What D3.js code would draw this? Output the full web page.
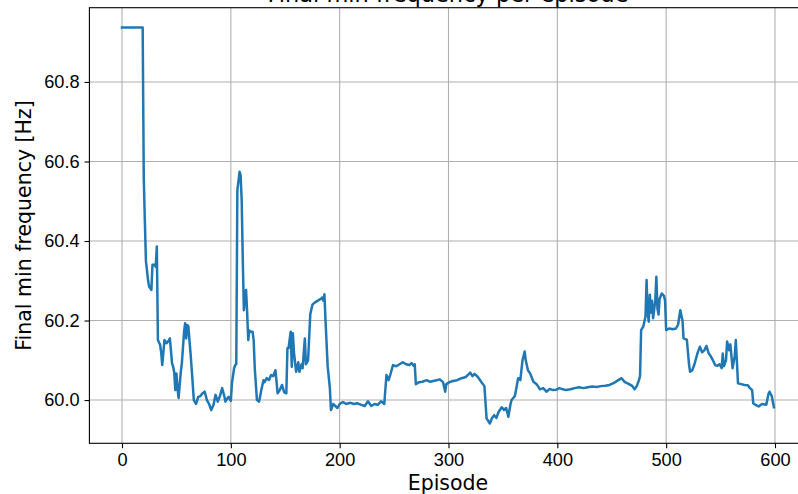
<!DOCTYPE html>
<html>
<head>
<meta charset="utf-8">
<script src="https://cdn.jsdelivr.net/npm/d3@7"></script>
<style>
	body { margin: 0; background: #fff; }
	svg { display: block; font-family: "DejaVu Sans", sans-serif; }
	.grid line { stroke: #b0b0b0; stroke-width: 1.1; }
	.line { fill: none; stroke: #1f77b4; stroke-width: 2.5; stroke-linejoin: round; stroke-linecap: square; }
</style>
</head>
<body>
<div id="graphs"></div>
<script>
var titleText = "Final min frequency per episode";
var xLabel = "Episode";
var yLabel = "Final min frequency [Hz]";
var xTicks = [0, 100, 200, 300, 400, 500, 600];
var yTicks = [60.0, 60.2, 60.4, 60.6, 60.8];

// episode numbers and final min frequency
var episodes = [0, 19, 20, 21, 22, 24, 25, 27, 28, 30, 31, 32, 33, 35, 36, 37, 39, 41, 43, 44,
	46, 47, 48, 49, 50, 51, 52, 54, 55, 57, 58, 59, 60, 61, 62, 63, 64, 66, 68, 70,
	72, 74, 76, 78, 80, 82, 84, 86, 88, 90, 92, 94, 95, 97, 98, 100, 101, 103, 104, 105,
	106, 107, 108, 109, 110, 111, 112, 113, 114, 115, 116, 117, 118, 120, 121, 122, 124, 126, 127, 128,
	130, 131, 133, 135, 137, 139, 141, 143, 145, 147, 149, 151, 152, 153, 155, 156, 157, 158, 160, 162,
	163, 165, 166, 168, 169, 171, 173, 175, 177, 180, 183, 184, 185, 186, 187, 189, 191, 192, 194, 196,
	198, 200, 203, 206, 210, 213, 216, 220, 223, 226, 229, 232, 235, 238, 241, 243, 245, 247, 249, 252,
	255, 258, 261, 264, 266, 268, 269, 270, 273, 276, 280, 283, 286, 289, 292, 295, 297, 298, 301, 304,
	308, 312, 316, 320, 322, 324, 327, 330, 333, 335, 338, 340, 342, 344, 346, 349, 351, 353, 355, 357,
	358, 361, 364, 366, 368, 370, 371, 373, 375, 378, 381, 384, 387, 390, 393, 396, 399, 402, 405, 408,
	412, 416, 420, 424, 428, 432, 436, 440, 444, 448, 452, 456, 459, 462, 466, 469, 471, 473, 475, 476,
	477, 479, 481, 482, 483, 484, 485, 486, 487, 488, 490, 491, 492, 493, 494, 496, 498, 499, 500, 503,
	506, 509, 511, 513, 515, 516, 519, 521, 522, 524, 526, 529, 531, 533, 535, 537, 539, 541, 543, 545,
	547, 549, 551, 552, 553, 555, 556, 558, 559, 561, 563, 564, 566, 569, 572, 575, 577, 579, 580, 582,
	585, 588, 592, 594, 595, 597, 599];

var minFreq = [60.937, 60.937, 60.56, 60.45, 60.35, 60.30, 60.285, 60.277, 60.34, 60.34, 60.335, 60.386, 60.151, 60.139, 60.12, 60.088, 60.151, 60.143, 60.15, 60.155,
	60.092, 60.084, 60.07, 60.025, 60.067, 60.03, 60.005, 60.07, 60.092, 60.17, 60.193, 60.155, 60.189, 60.185, 60.15, 60.117, 60.08, 60.0, 59.99, 60.008,
	60.01, 60.017, 60.021, 60.0, 59.99, 59.975, 59.987, 60.013, 59.996, 60.01, 60.03, 60.01, 59.996, 60.005, 60.008, 59.998, 60.042, 60.08, 60.088, 60.09,
	60.528, 60.55, 60.574, 60.565, 60.5, 60.35, 60.226, 60.26, 60.277, 60.22, 60.151, 60.175, 60.172, 60.172, 60.15, 60.08, 60.0, 59.996, 60.01, 60.025,
	60.05, 60.045, 60.055, 60.05, 60.063, 60.06, 60.075, 60.017, 60.025, 60.038, 60.02, 60.017, 60.13, 60.13, 60.172, 60.084, 60.168, 60.12, 60.071, 60.095,
	60.071, 60.09, 60.08, 60.155, 60.09, 60.10, 60.216, 60.24, 60.245, 60.25, 60.255, 60.258, 60.25, 60.266, 60.2, 60.084, 60.03, 59.975, 59.99, 59.985,
	59.98, 59.99, 59.995, 59.99, 59.993, 59.99, 59.992, 59.988, 59.985, 59.997, 59.985, 59.99, 59.988, 59.997, 59.99, 60.063, 60.05, 60.068, 60.088, 60.085,
	60.09, 60.095, 60.09, 60.088, 60.093, 60.086, 60.09, 60.04, 60.045, 60.046, 60.05, 60.046, 60.048, 60.05, 60.052, 60.045, 60.021, 60.04, 60.045, 60.048,
	60.05, 60.055, 60.058, 60.069, 60.06, 60.066, 60.058, 60.046, 60.035, 59.954, 59.941, 59.955, 59.962, 59.955, 59.97, 59.982, 59.975, 59.98, 59.958, 59.99,
	60.0, 60.01, 60.055, 60.05, 60.10, 60.122, 60.1, 60.075, 60.067, 60.046, 60.04, 60.027, 60.03, 60.021, 60.028, 60.025, 60.026, 60.03, 60.027, 60.025,
	60.027, 60.03, 60.032, 60.03, 60.032, 60.034, 60.033, 60.035, 60.036, 60.038, 60.043, 60.05, 60.055, 60.045, 60.04, 60.035, 60.027, 60.035, 60.05, 60.06,
	60.176, 60.185, 60.21, 60.302, 60.22, 60.197, 60.265, 60.22, 60.25, 60.206, 60.25, 60.31, 60.23, 60.215, 60.255, 60.268, 60.262, 60.25, 60.176, 60.18,
	60.178, 60.18, 60.19, 60.226, 60.2, 60.155, 60.152, 60.09, 60.071, 60.075, 60.09, 60.12, 60.134, 60.12, 60.125, 60.136, 60.118, 60.11, 60.1, 60.088,
	60.086, 60.09, 60.08, 60.117, 60.085, 60.1, 60.147, 60.125, 60.14, 60.08, 60.11, 60.151, 60.042, 60.04, 60.038, 60.037, 60.03, 60.025, 59.992, 59.988,
	59.984, 59.99, 59.988, 60.015, 60.021, 60.01, 59.982];

function loadGraph() {
	var width  = 798;
	var height = 494;
	var plot   = {left: 89.4, right: 806.5, top: 7.7, bottom: 443.3};
	var lineData = episodes.map(function(ep, i) { return {ep: ep, f: minFreq[i]}; });

	var svg = d3.select('#graphs').append("svg")
		.attr("width", width)
		.attr("height", height);

	// matplotlib style 5% margins on both axes
	var xExt = d3.extent(lineData, d => d.ep);
	var yExt = d3.extent(lineData, d => d.f);
	var xPad = (xExt[1] - xExt[0]) * 0.05;
	var yPad = (yExt[1] - yExt[0]) * 0.05;

	var xScale = d3.scaleLinear()
		.domain([xExt[0] - xPad, xExt[1] + xPad])
		.range([plot.left, plot.right]);
	var yScale = d3.scaleLinear()
		.domain([yExt[0] - yPad, yExt[1] + yPad])
		.range([plot.bottom, plot.top]);

	// grid
	var grid = svg.append("g").attr("class", "grid");
	grid.selectAll(".gx").data(xTicks).enter().append("line")
		.attr("x1", d => xScale(d)).attr("x2", d => xScale(d))
		.attr("y1", plot.top).attr("y2", plot.bottom);
	grid.selectAll(".gy").data(yTicks).enter().append("line")
		.attr("x1", plot.left).attr("x2", plot.right)
		.attr("y1", d => yScale(d)).attr("y2", d => yScale(d));

	var valueline = d3.line()
		.x(d => xScale(d.ep))
		.y(d => yScale(d.f));

	svg.append("path")
		.datum(lineData)
		.attr("class", "line")
		.attr("d", valueline);

	// axes
	var xAxis = d3.axisBottom(xScale).tickValues(xTicks).tickSize(4.9).tickPadding(4.9).tickFormat(d3.format("d"));
	var yAxis = d3.axisLeft(yScale).tickValues(yTicks).tickSize(4.9).tickPadding(4.9).tickFormat(d3.format(".1f"));

	var gx = svg.append("g")
		.attr("transform", "translate(0," + plot.bottom + ")")
		.call(xAxis);
	var gy = svg.append("g")
		.attr("transform", "translate(" + plot.left + ",0)")
		.call(yAxis);

	[gx, gy].forEach(function(g) {
		g.select(".domain").remove();
		g.selectAll(".tick line").attr("stroke", "#000").attr("stroke-width", 1.1);
		g.selectAll(".tick text").attr("fill", "#000").style("font-size", "18.2px");
	});

	// spines
	svg.append("rect")
		.attr("x", plot.left).attr("y", plot.top)
		.attr("width", plot.right - plot.left).attr("height", plot.bottom - plot.top)
		.attr("fill", "none").attr("stroke", "#000").attr("stroke-width", 1.1);

	svg.append("text")
		.attr("x", (plot.left + plot.right) / 2)
		.attr("y", 489.5)
		.attr("text-anchor", "middle")
		.style("font-size", "20.5px")
		.text(xLabel);

	svg.append("text")
		.attr("transform", "translate(31," + ((plot.top + plot.bottom) / 2) + ") rotate(-90)")
		.attr("text-anchor", "middle")
		.style("font-size", "20.5px")
		.text(yLabel);

	svg.append("text")
		.attr("x", (plot.left + plot.right) / 2)
		.attr("y", 2)
		.attr("text-anchor", "middle")
		.style("font-size", "22.5px")
		.text(titleText);
}

loadGraph();
</script>
</body>
</html>
